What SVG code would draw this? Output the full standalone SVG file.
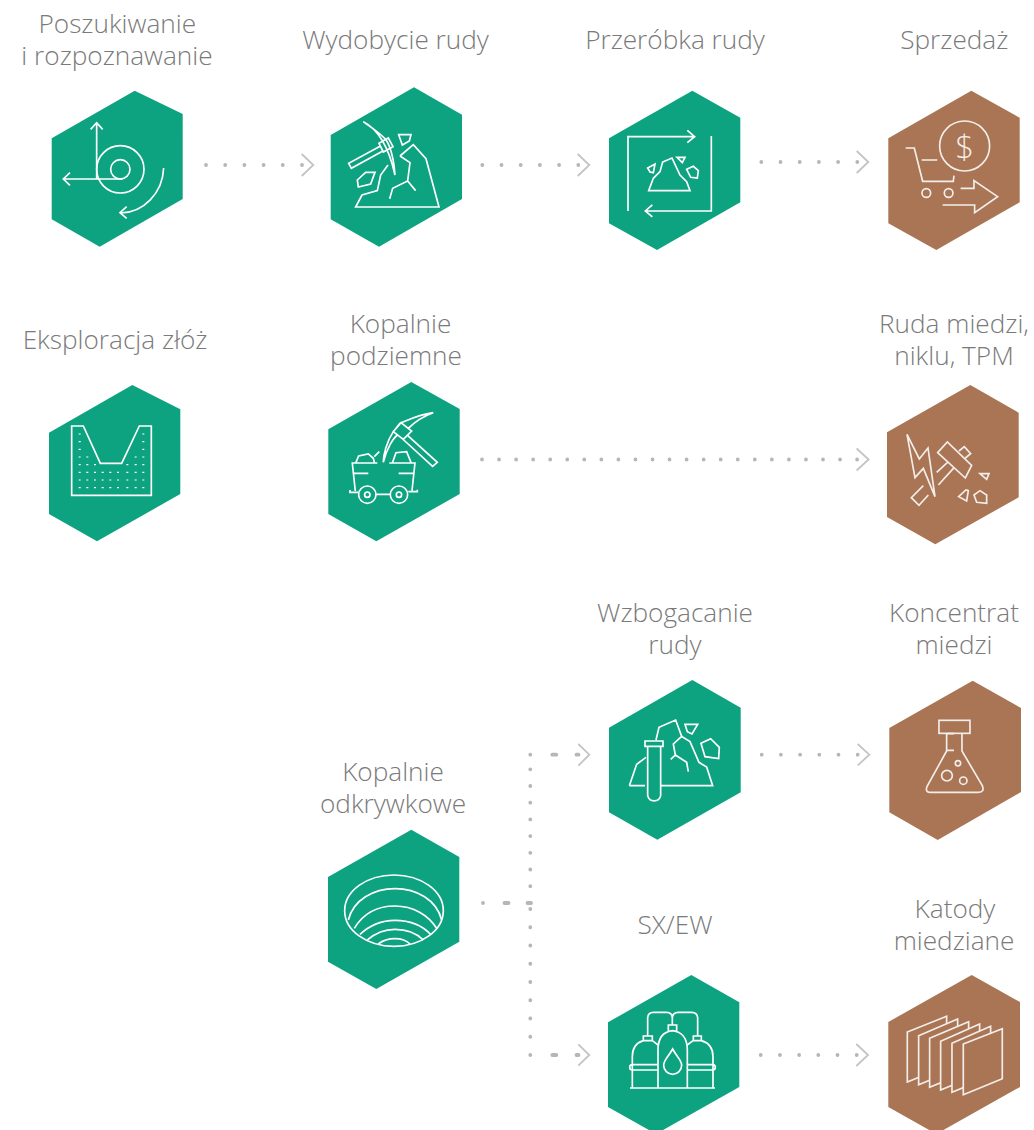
<svg xmlns="http://www.w3.org/2000/svg" width="1034" height="1130" viewBox="0 0 1034 1130">
<style>
.g{fill:#0da381}.b{fill:#a97555}
.t{font-family:"Open Sans","Liberation Sans",sans-serif;font-weight:300;font-size:26.2px;fill:#7a7a7a;text-anchor:middle}
.ic{fill:none;stroke:#fff;stroke-width:5;stroke-linejoin:miter;stroke-linecap:butt}
.ib{stroke:#f3eeea}
.d{fill:none;stroke:#b6b6b6;stroke-width:3.8;stroke-linecap:round}
.c{fill:none;stroke:#c4c4c4;stroke-width:1.8}
</style>
<rect width="1034" height="1130" fill="#fff"/>
<g id="connectors">
<path class="d" stroke-dasharray="0 19.2" d="M206 165H303"/><path class="c" d="M301.7 154L313.3 165L301.7 176"/>
<path class="d" stroke-dasharray="0 19.2" d="M482.3 165H579"/><path class="c" d="M577.7 154L589.3 165L577.7 176"/>
<path class="d" stroke-dasharray="0 19.2" d="M761.3 162H858"/><path class="c" d="M856.7 151L868.3 162L856.7 173"/>
<path class="d" stroke-dasharray="0 17.05" d="M482 459.5H858"/><path class="c" d="M856.6 448.5L868.6 459.5L856.6 470.5"/>
<path class="d" stroke-dasharray="0 19.2" d="M761.7 754.7H858"/><path class="c" d="M857.7 744L869.3 754.7L857.7 765.4"/>
<path class="d" stroke-dasharray="0 19.2" d="M760.7 1055H857"/><path class="c" d="M856.3 1044L868 1055L856.3 1066"/>
<path class="d" d="M483 903h0M504.5 903h4M527.5 903h3.5"/>
<path class="d" stroke-dasharray="0 16.7" d="M530.3 769.3V904"/>
<path class="d" stroke-dasharray="0 18.25" d="M530.3 909V1038"/>
<path class="d" d="M530.3 754.7h0M552.3 754.7h4M576.5 754.7h2"/><path class="c" d="M578.3 744L589.3 754.7L578.3 765.7"/>
<path class="d" d="M530.3 1055h0M552.3 1055h4M576.5 1055h2"/><path class="c" d="M578.3 1044.3L589.3 1055L578.3 1065.7"/>
</g>
<g id="n1"><polygon class="g" points="134.7,90.7 182.7,114 182.7,199 99.7,246.7 51.7,219.3 51.7,138.3"/>
<g class="ic" transform="translate(30 80) scale(.3333)"><path d="M200 130V297M182 148L200 128L218 148M100 297H278M120 278L100 297L120 316M401 264C398 340 340 398 272 399M290 380L270 398L290 415"/><circle cx="271" cy="268" r="71"/><circle cx="271" cy="268" r="29"/></g>
<text class="t" x="117.3" y="33">Poszukiwanie</text><text class="t" x="117" y="65">i rozpoznawanie</text></g>
<g id="n2"><polygon class="g" points="414,87.3 462,114.7 462,199 379,246.7 330.7,219.3 330.7,135"/>
<g class="ic" transform="translate(320 80) scale(.3333)"><path d="M183 197L86 250L94 265L190 212M177 190L205 174L219 200L190 216ZM130 125C170 145 205 195 225 285C222 245 215 205 197 178C175 155 150 140 130 125ZM236 164H273L268 183L247 195ZM240 228L280 194L318 236L357 381H107L126 345L172 332L182 285L204 255M240 228L270 248L263 303L218 325L209 356M263 303L287 332M112 300L137 277L165 277L152 312L115 321Z"/></g>
<text class="t" x="395.5" y="49">Wydobycie rudy</text></g>
<g id="n3"><polygon class="g" points="692.3,90.7 740.3,117.7 740.3,202.3 657,250 609,223.3 609,138.3"/>
<g class="ic" transform="translate(600 80) scale(.3333)"><path d="M84 393V170H283M262 151L284 170L262 188M334 168V393H137M157 375L136 393L157 411M146 332H270L260 305L240 285L216 234L188 246L180 275L160 295ZM143 264L165 252L160 278L150 276ZM231 232H255L247 248ZM260 268L280 259L295 272L292 294L272 292Z"/></g>
<text class="t" x="675" y="49">Przeróbka rudy</text></g>
<g id="n4"><polygon class="b" points="971.3,90.7 1019.7,117.7 1019.7,202.3 936.3,250 888.3,223.3 888.3,138.3"/>
<g class="ic ib" transform="translate(600 80) scale(.3333)"><circle cx="1094" cy="198" r="75"/><path d="M917 204H943L968 304H1060L1062 287M965 240H1012M1082 325H1122V302L1193 350L1124 398V375H1028"/><circle cx="979" cy="339" r="13"/><circle cx="1046" cy="339" r="13"/></g>
<text x="964.7" y="158.5" text-anchor="middle" font-family="Open Sans,Liberation Sans,sans-serif" font-weight="300" font-size="33" fill="#f3eeea">$</text>
<text class="t" x="954.3" y="49">Sprzedaż</text></g>
<g id="n5"><polygon class="g" points="132.3,385 180.3,409.3 180.3,494 97,541.3 49,514 49,432.7"/>
<g class="ic" transform="translate(40 375) scale(.3333)"><path d="M95 153H130L181 265H245L298 153H334V361H95Z"/>
<path style="stroke-width:3.6" d="M116 177h6M307 177h6M116 200h6M307 200h6M116 223h6M307 223h6M116 246h6M139 246h6M284 246h6M307 246h6M116 269h6M139 269h6M162 269h6M259 269h6M284 269h6M307 269h6M116 292h6M139 292h6M162 292h6M185 292h6M208 292h6M231 292h6M259 292h6M284 292h6M307 292h6M116 315h6M139 315h6M162 315h6M185 315h6M208 315h6M231 315h6M259 315h6M284 315h6M307 315h6M116 338h6M139 338h6M162 338h6M185 338h6M208 338h6M231 338h6M259 338h6M284 338h6M307 338h6"/></g>
<text class="t" x="115" y="349">Eksploracja złóż</text></g>
<g id="n6"><polygon class="g" points="411.3,382 459.7,409 459.7,494 376.3,541.3 328.3,514 328.3,429.3"/>
<g class="ic" transform="translate(40 375) scale(.3333)"><path d="M1012 264H937L946 348M1048 264H1125L1116 348M940 295H985M1076 295H1122M930 345V352H955M1007 358H1052M1105 350H1132V344M948 262L956 243L985 237L1000 250L1003 262M1003 245L1018 230M1058 262L1068 233L1100 230L1113 262M1060 170L1083 143L1115 168L1090 193ZM1101 180L1192 262L1178 274L1088 192M1180 113C1130 120 1095 140 1080 145L1060 170C1040 200 1030 240 1030 262C1040 220 1060 190 1072 180M1180 113C1160 120 1130 135 1105 160"/><circle cx="982" cy="359" r="26"/><circle cx="982" cy="359" r="8"/><circle cx="1077" cy="359" r="26"/><circle cx="1077" cy="359" r="8"/></g>
<text class="t" x="400.5" y="333">Kopalnie</text><text class="t" x="396" y="365">podziemne</text></g>
<g id="n7"><polygon class="b" points="970.3,385 1018.7,412.7 1018.7,497.3 935.3,544.3 887,517 887,432.3"/>
<g class="ic ib" transform="translate(860 380) scale(.3333)"><path d="M141 163L178 237L204 204L225 350L190 265L165 293ZM233 218L262 186L335 256L316 294ZM297 213L313 200L332 221L316 234M265 245L230 277M283 262L235 315M190 317L154 353L177 376L205 345M360 281H387L380 298ZM296 350L318 330L325 332L320 363ZM342 345L360 332L380 345L380 370L350 367Z"/></g>
<text class="t" x="954" y="333">Ruda miedzi,</text><text class="t" x="954" y="365">niklu, TPM</text></g>
<g id="n8"><polygon class="g" points="692.3,680 740.7,707.7 740.7,792.3 657.3,839.7 609,812.3 609,727.7"/>
<g class="ic" transform="translate(600 675) scale(.3333)"><path d="M88 332H135M182 332H338L320 276L297 262L270 200L245 184L227 135L177 157L168 195M88 332L110 268L138 247M245 184L220 207L226 240L212 253M226 240L260 262L265 290M135 198H189V214H135ZM143 214V362A20 20 0 0 0 182 362V214M255 148H293L276 177L262 170ZM303 205L332 191L358 217L356 251L315 245Z"/></g>
<text class="t" x="675" y="622">Wzbogacanie</text><text class="t" x="675" y="654">rudy</text></g>
<g id="n9"><polygon class="b" points="972.7,680.7 1021,708 1021,792 937.7,840 889.3,812.3 889.3,728"/>
<g class="ic ib" transform="translate(600 675) scale(.3333)"><rect x="1017" y="136" width="93" height="39"/><path d="M1040 175V228L981 335Q975 352 990 352H1135Q1155 352 1147 332L1086 228V175M1062 176H1042M1042 226H1062"/><circle cx="1041" cy="302" r="16"/><circle cx="1090" cy="317" r="11"/><circle cx="1074" cy="265" r="8"/></g>
<text class="t" x="954" y="622">Koncentrat</text><text class="t" x="954" y="654">miedzi</text></g>
<g id="n10"><polygon class="g" points="411.3,829.7 459.3,857 459.3,941.7 376.3,989 328,961.7 328,877"/>
<g class="ic" transform="translate(320 740) scale(.3333)"><ellipse cx="222" cy="512" rx="148" ry="107"/><path d="M85 540C100 480 160 446 225 446C290 446 350 480 365 540M103 565C130 520 170 498 225 498C280 498 325 525 350 565M120 583C150 555 180 541 225 541C270 541 305 555 332 583M142 600C165 580 190 568 225 568C260 568 290 580 310 600M175 612C190 600 205 596 225 596C245 596 260 602 270 612"/></g>
<text class="t" x="393" y="781">Kopalnie</text><text class="t" x="393" y="813">odkrywkowe</text></g>
<g id="n11"><polygon class="g" points="691.3,975 739.3,1002.3 739.3,1087 656,1134 608,1107 608,1022.3"/>
<g class="ic" transform="translate(600 970) scale(.3333)"><path d="M90 354H345M174 354V240C174 205 190 185 218 182C245 185 262 205 262 240V354M205 182V165H230V182M174 225C165 218 160 214 157 212H130C110 218 97 235 97 260V354M174 284H97A8 8 0 0 0 97 300H174M262 284H338A8 8 0 0 1 338 300H262M130 212V198H157V212M280 212V198H304V212M262 225C270 218 275 214 280 212H304C325 218 339 235 339 260V354M143 198V145Q143 127 160 127H200Q217 127 217 145V165M217 145Q217 127 235 127H275Q293 127 293 145V198M218 237C205 260 191 270 191 286A27 27 0 0 0 245 286C245 270 230 260 218 237Z"/></g>
<text class="t" x="675" y="934">SX/EW</text></g>
<g id="n12"><polygon class="b" points="971.7,975 1020,1002 1020,1087 936.3,1134 888.3,1107 888.3,1022"/>
<g class="ic ib" style="fill:#a97555" transform="translate(600 970) scale(.3333)"><path d="M922 186L1040 139V288L922 336Z"/><path d="M956 197L1073 147V296L956 344Z"/><path d="M989 205L1106 155V304L989 352Z"/><path d="M1022 214L1139 162V312L1022 360Z"/><path d="M1056 220L1172 169V319L1056 367Z"/><path d="M1090 222L1207 176V326L1090 374Z"/></g>
<text class="t" x="955" y="918">Katody</text><text class="t" x="954" y="950">miedziane</text></g>
</svg>
